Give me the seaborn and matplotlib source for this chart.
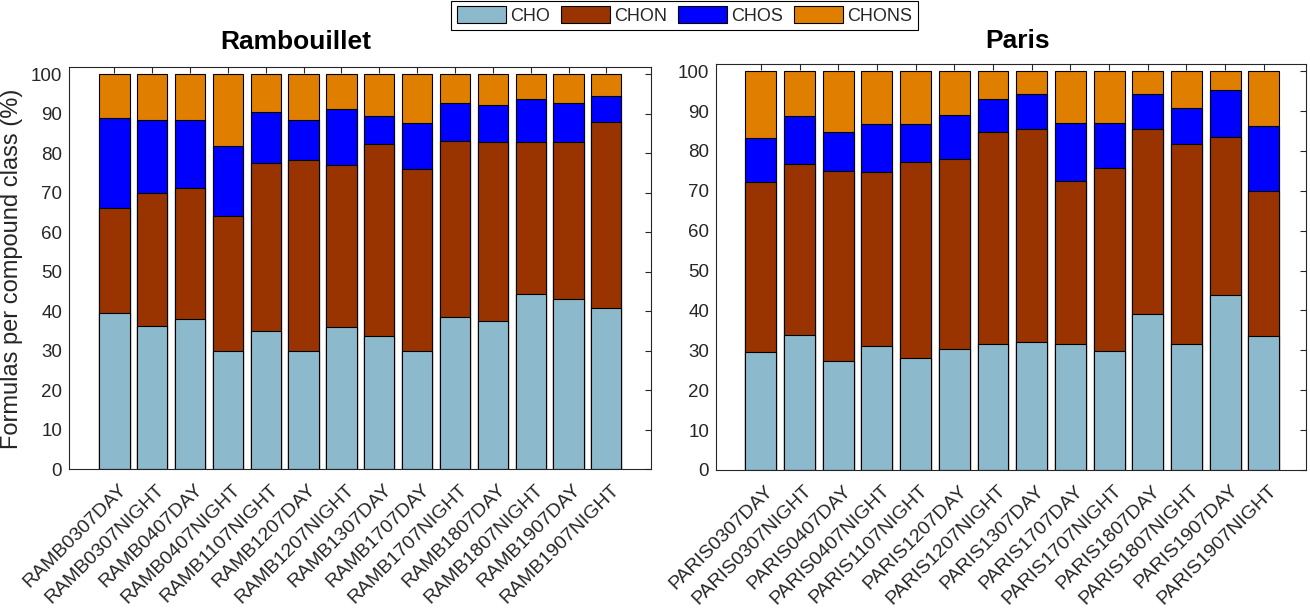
import pandas as pd
import matplotlib
matplotlib.use("Agg")
import matplotlib.pyplot as plt
import matplotlib.transforms as mtransforms
import seaborn as sns
from matplotlib.patches import Patch

# compound classes and their colours
classes = ["CHO", "CHON", "CHOS", "CHONS"]
class_colors = ["#8DB9CC", "#993300", "#0000FF", "#E07E00"]

# Rambouillet samples (% of formulas per class)
ramb_samples = ["RAMB0307DAY", "RAMB0307NIGHT", "RAMB0407DAY", "RAMB0407NIGHT",
                "RAMB1107NIGHT", "RAMB1207DAY", "RAMB1207NIGHT", "RAMB1307DAY",
                "RAMB1707DAY", "RAMB1707NIGHT", "RAMB1807DAY", "RAMB1807NIGHT",
                "RAMB1907DAY", "RAMB1907NIGHT"]
ramb_cho = [39.4, 36.1, 37.9, 29.8, 34.9, 30.0, 35.9, 33.6, 30.0, 38.4, 37.4, 44.2, 43.0, 40.7]
ramb_chon = [26.6, 33.9, 33.2, 34.2, 42.7, 48.2, 41.0, 48.6, 45.9, 44.6, 45.3, 38.5, 39.7, 47.1]
ramb_chos = [23.0, 18.5, 17.2, 17.9, 12.9, 10.1, 14.2, 7.3, 11.6, 9.6, 9.4, 10.9, 9.9, 6.6]
ramb_chons = [11.0, 11.5, 11.7, 18.1, 9.5, 11.7, 8.9, 10.5, 12.5, 7.4, 7.9, 6.4, 7.4, 5.6]

# Paris samples
paris_samples = ["PARIS0307DAY", "PARIS0307NIGHT", "PARIS0407DAY", "PARIS0407NIGHT",
                 "PARIS1107NIGHT", "PARIS1207DAY", "PARIS1207NIGHT", "PARIS1307DAY",
                 "PARIS1707DAY", "PARIS1707NIGHT", "PARIS1807DAY", "PARIS1807NIGHT",
                 "PARIS1907DAY", "PARIS1907NIGHT"]
paris_cho = [29.5, 33.8, 27.4, 31.0, 28.0, 30.3, 31.5, 32.0, 31.5, 29.8, 39.0, 31.5, 43.8, 33.5]
paris_chon = [42.7, 43.0, 47.5, 43.7, 49.2, 47.6, 53.3, 53.4, 40.9, 45.9, 46.4, 50.2, 39.6, 36.4]
paris_chos = [11.0, 11.9, 9.9, 12.0, 9.5, 11.1, 8.2, 8.8, 14.6, 11.3, 8.8, 9.0, 11.8, 16.3]
paris_chons = [16.8, 11.3, 15.2, 13.3, 13.3, 11.0, 7.0, 5.8, 13.0, 13.0, 5.8, 9.3, 4.8, 13.8]

ink = "#262626"
sns.set_theme(style="white", rc={"axes.edgecolor": ink, "axes.linewidth": 0.8})
plt.rcParams["font.family"] = ["Liberation Sans", "DejaVu Sans"]

W, H = 1310, 609
fig = plt.figure(figsize=(W / 100, H / 100), dpi=100)
ax_l = fig.add_axes([69 / W, 1 - 469 / H, 582 / W, 402 / H])
ax_r = fig.add_axes([716 / W, 1 - 470 / H, 590 / W, 406 / H])

# small nudge of the rotated sample labels (right / down)
label_shift = mtransforms.ScaledTranslation(4 / 100, -5 / 100, fig.dpi_scale_trans)


def stacked(ax, samples, cho, chon, chos, chons, xlim):
    df = pd.DataFrame({"CHO": cho, "CHON": chon, "CHOS": chos, "CHONS": chons})
    cum = df[classes].cumsum(axis=1)
    cum["sample"] = samples
    # tallest stack first, lower segments drawn over it
    for cls, col in reversed(list(zip(classes, class_colors))):
        sns.barplot(data=cum, x="sample", y=cls, order=samples, color=col,
                    saturation=1, edgecolor="black", linewidth=0.8, width=0.8,
                    errorbar=None, ax=ax)
    ax.set_xlim(*xlim)
    ax.set_ylim(0, 101.8)
    ax.set_yticks(range(0, 101, 10))
    ax.set_xticks(range(len(samples)))
    ax.set_xticklabels(samples, rotation=45, ha="right", va="top",
                       rotation_mode="anchor", fontsize=14)
    ax.set_xlabel("")
    ax.set_ylabel("")
    ax.tick_params(axis="both", direction="in", top=True, right=True, length=4,
                   width=0.8, color=ink, labelcolor=ink, pad=5)
    ax.tick_params(axis="y", labelsize=13.5)
    for lab in ax.get_xticklabels():
        lab.set_transform(lab.get_transform() + label_shift)
    for sp in ax.spines.values():
        sp.set_visible(True)
        sp.set_color(ink)
        sp.set_linewidth(0.8)


stacked(ax_l, ramb_samples, ramb_cho, ramb_chon, ramb_chos, ramb_chons, (-1.2, 14.18))
stacked(ax_r, paris_samples, paris_cho, paris_chon, paris_chos, paris_chons, (-1.16, 14.09))

fig.text(296 / W, 1 - 49 / H, "Rambouillet", ha="center", va="baseline",
         fontsize=19, fontweight="bold", color="black")
fig.text(1018 / W, 1 - 48 / H, "Paris", ha="center", va="baseline",
         fontsize=19, fontweight="bold", color="black")
fig.text(12 / W, 1 - 269 / H, "Formulas per compound class (%)", rotation=90,
         ha="center", va="center", fontsize=17, color=ink)

handles = [Patch(facecolor=c, edgecolor="black", linewidth=0.8) for c in class_colors]
leg = fig.legend(handles, classes, loc="upper center", bbox_to_anchor=(684.5 / W, 1 - 1 / H),
                 ncol=4, frameon=True, fancybox=False, edgecolor="black", framealpha=1,
                 fontsize=13, handlelength=2.7, handleheight=1.0, handletextpad=0.25,
                 columnspacing=0.6, borderpad=0.3, borderaxespad=0)
leg.get_frame().set_linewidth(0.8)

fig.savefig("out.png", dpi=100, facecolor="white")
